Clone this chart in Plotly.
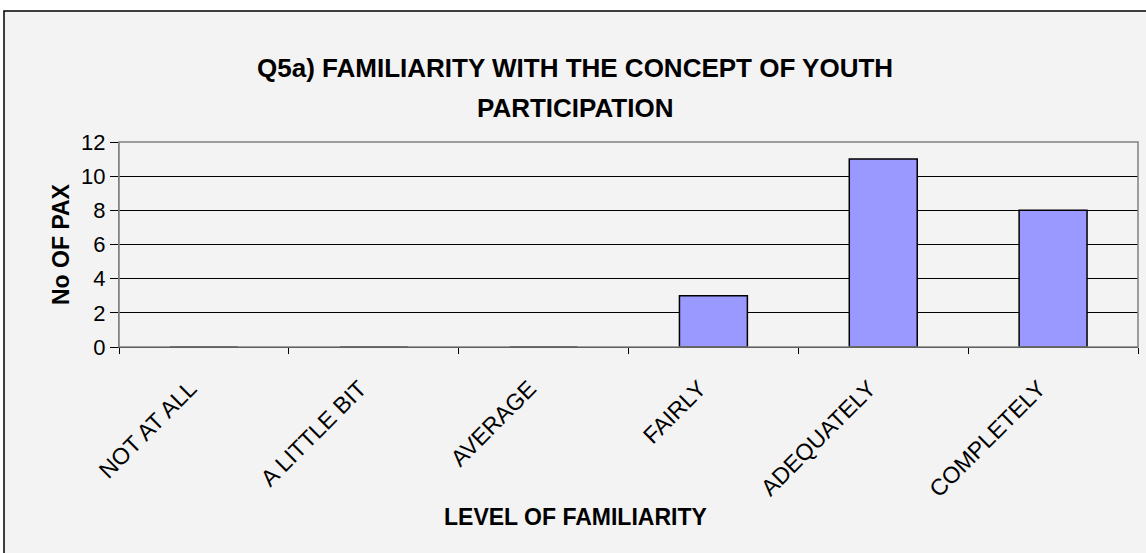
import plotly.graph_objects as go

categories = ["NOT AT ALL", "A LITTLE BIT", "AVERAGE", "FAIRLY", "ADEQUATELY", "COMPLETELY"]
counts = [0, 0, 0, 3, 11, 8]
y_ticks = [0, 2, 4, 6, 8, 10, 12]

W, H = 1146, 553
L, R, T, B = 119, 8, 142, 206
pw, ph = W - L - R, H - T - B


def px_x(p):
    return (p - L) / pw


def px_y(p):
    return (H - B - p) / ph


fig = go.Figure()
fig.add_trace(
    go.Bar(
        x=categories,
        y=counts,
        marker=dict(color="#9999FF", line=dict(color="black", width=1.5)),
        showlegend=False,
    )
)

# --- chart frame ---
fig.add_shape(
    type="rect", xref="paper", yref="paper",
    x0=px_x(4), x1=px_x(1152), y0=px_y(560), y1=px_y(11),
    line=dict(color="black", width=1.5), fillcolor="#F3F3F3", layer="below",
)

font = "Liberation Sans, Arial, sans-serif"

# --- titles ---
fig.add_annotation(
    text="<b>Q5a) FAMILIARITY WITH THE CONCEPT OF YOUTH</b>",
    xref="paper", yref="paper", x=px_x(575), y=px_y(51),
    showarrow=False, font=dict(size=26, color="black", family=font),
)
fig.add_annotation(
    text="<b>PARTICIPATION</b>",
    xref="paper", yref="paper", x=px_x(575), y=px_y(91),
    showarrow=False, font=dict(size=26, color="black", family=font),
)
fig.add_annotation(
    text="<b>LEVEL OF FAMILIARITY</b>",
    xref="paper", yref="paper", x=px_x(575), y=px_y(532),
    showarrow=False, font=dict(size=23, color="black", family=font),
)
fig.add_annotation(
    text="<b>No OF PAX</b>",
    xref="paper", yref="paper", x=px_x(46), y=px_y(244),
    textangle=-90, showarrow=False, font=dict(size=23, color="black", family=font),
)

fig.update_xaxes(
    type="category",
    tickson="boundaries",
    ticks="outside",
    ticklen=6,
    tickcolor="black",
    tickangle=-45,
    ticklabelstandoff=18,
    ticklabelshift=-14,
    tickfont=dict(size=23, color="black", family=font),
    showline=True,
    linecolor="black",
    linewidth=1,
    mirror=False,
    showgrid=False,
    range=[-0.5, 5.5],
)
fig.update_yaxes(
    range=[0, 12],
    tickvals=y_ticks,
    ticks="outside",
    ticklen=8,
    tickcolor="black",
    tickfont=dict(size=22, color="black", family=font),
    showline=True,
    linecolor="#808080",
    linewidth=1,
    showgrid=True,
    gridcolor="black",
    gridwidth=1,
    zeroline=False,
)

# plot area border on top/right
fig.add_shape(
    type="rect", xref="paper", yref="paper", x0=0, x1=1, y0=0, y1=1,
    line=dict(color="#808080", width=1.5), layer="above",
)

fig.update_layout(
    width=W,
    height=H,
    margin=dict(l=L, r=R, t=T, b=B),
    paper_bgcolor="white",
    plot_bgcolor="#C0C0C0",
    bargap=0.6,
    font=dict(family=font, color="black"),
)

fig.write_html(
    "out.html",
    config={"displayModeBar": False},
    post_script="document.body.style.margin='0px';document.body.style.overflow='hidden';",
)
